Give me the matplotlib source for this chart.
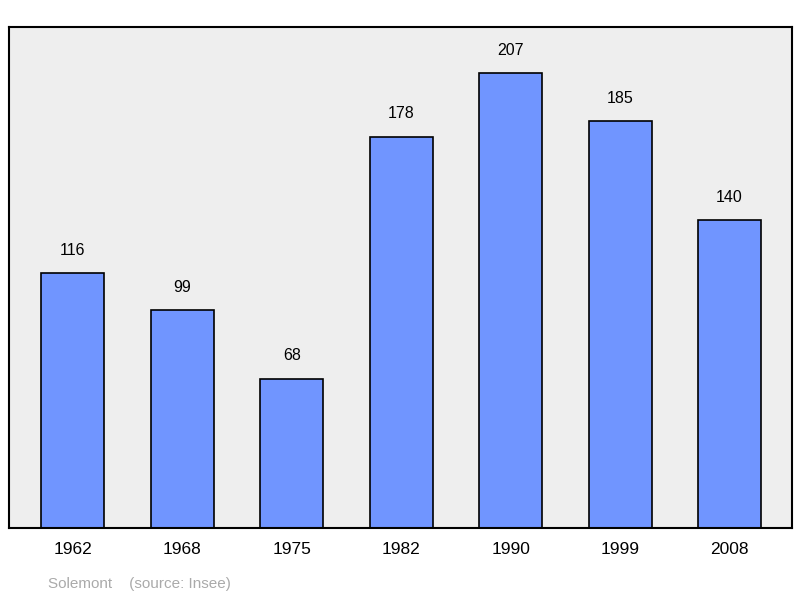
import matplotlib
matplotlib.use("Agg")
import matplotlib.pyplot as plt

years = ["1962", "1968", "1975", "1982", "1990", "1999", "2008"]
values = [116, 99, 68, 178, 207, 185, 140]

plt.rcParams['font.family'] = ['Liberation Sans', 'DejaVu Sans']
fig = plt.figure(figsize=(8, 5.98), dpi=100)
ax = fig.add_axes([9/800, 1-528/598, (792-9)/800, (528-27)/598])
ax.set_facecolor('#eeeeee')
x = list(range(len(years)))
ax.bar(x, values, width=0.575, color='#7095ff', edgecolor='black', linewidth=1.2, zorder=2)
for xi, v in zip(x, values):
    ax.text(xi, v + 7, str(v), ha='center', va='bottom', fontsize=11.5)
ax.set_xlim(-0.584, 6.57)
ax.set_ylim(0, 228)
ax.set_yticks([])
ax.set_xticks(x)
ax.set_xticklabels(years, fontsize=12.5)
ax.tick_params(axis='x', length=0, pad=10)
for s in ax.spines.values():
    s.set_linewidth(1.5)
fig.text(48/800, 1-584/598, "Solemont    (source: Insee)", color='#aaaaaa', fontsize=11, va='center')
fig.savefig("out.png", dpi=100)
